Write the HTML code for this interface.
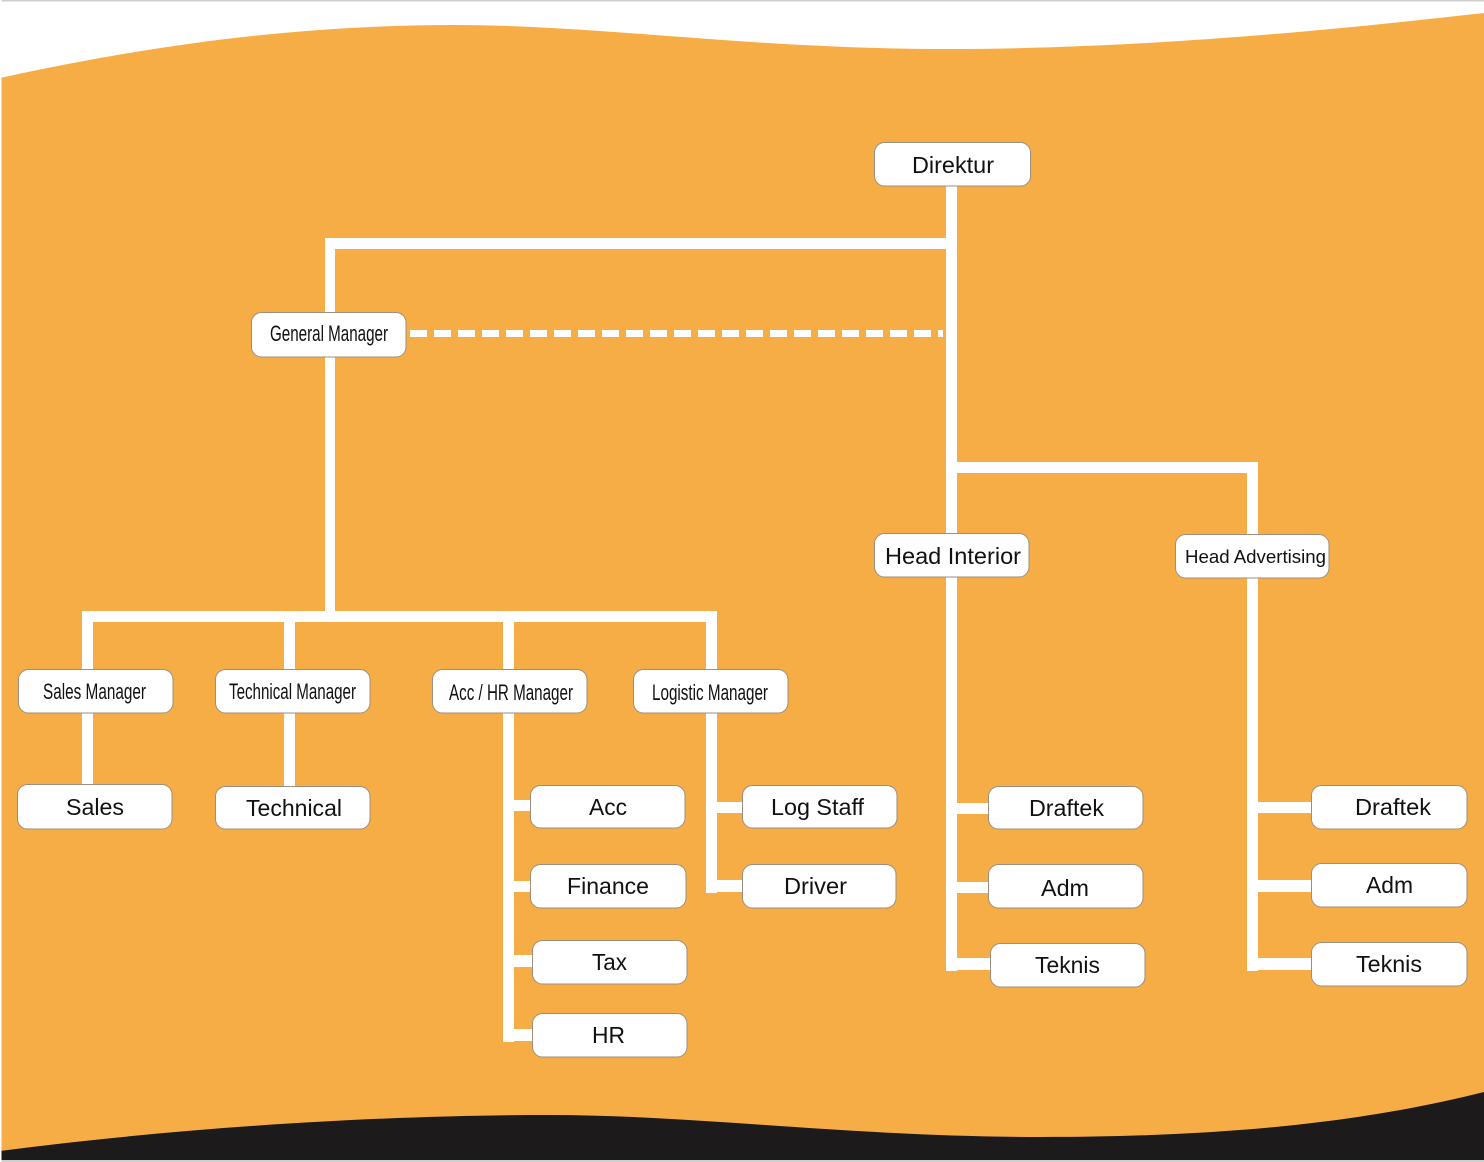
<!DOCTYPE html>
<html>
<head>
<meta charset="utf-8">
<style>
html,body{margin:0;padding:0;background:#fff;}
svg{display:block;}
text{font-family:"Liberation Sans",Arial,sans-serif;fill:#111;}
</style>
</head>
<body>
<svg width="1484" height="1162" viewBox="0 0 1484 1162" xmlns="http://www.w3.org/2000/svg">
  <!-- background -->
  <rect x="0" y="0" width="1484" height="1162" fill="#F6AD45"/>
  <!-- top white wave -->
  <path d="M0,78 C150,45 300,25 454,25 C600,25 750,49 946,49 C1150,49 1350,28 1484,13 L1484,0 L0,0 Z" fill="#ffffff"/>
  <!-- bottom black wave -->
  <path d="M0,1151 C200,1125 400,1115 549,1115 C700,1115 850,1137 1041,1137 C1250,1137 1380,1118 1484,1092 L1484,1162 L0,1162 Z" fill="#1c1a1a"/>
  <rect x="0" y="0" width="1484" height="1.5" fill="#cfcfcf"/>
  <rect x="0" y="1160" width="1484" height="2" fill="#cfcfcf"/>
  <rect x="0" y="0" width="1.5" height="1162" fill="#ffffff"/>

  <!-- connectors -->
  <g fill="#ffffff">
    <!-- Direktur trunk -->
    <rect x="946" y="186" width="11" height="785"/>
    <!-- top horizontal to GM -->
    <rect x="325" y="238" width="632" height="11"/>
    <!-- GM vertical -->
    <rect x="325" y="238" width="10" height="384"/>
    <!-- branch horizontal -->
    <rect x="82" y="611" width="635" height="11"/>
    <!-- manager drops -->
    <rect x="82" y="611" width="11" height="175"/>
    <rect x="284" y="611" width="11" height="177"/>
    <rect x="503" y="611" width="11" height="431"/>
    <rect x="706" y="611" width="11" height="282"/>
    <!-- Acc/HR stubs -->
    <rect x="503" y="800" width="29" height="11"/>
    <rect x="503" y="881" width="29" height="11"/>
    <rect x="503" y="955" width="31" height="12"/>
    <rect x="503" y="1029" width="31" height="12"/>
    <!-- Logistic stubs -->
    <rect x="706" y="802" width="38" height="11"/>
    <rect x="706" y="880" width="38" height="12"/>
    <!-- right branch -->
    <rect x="946" y="462" width="312" height="11"/>
    <rect x="1247" y="462" width="11" height="509"/>
    <!-- interior stubs -->
    <rect x="946" y="803" width="44" height="11"/>
    <rect x="946" y="882" width="44" height="11"/>
    <rect x="946" y="958" width="46" height="12"/>
    <!-- advertising stubs -->
    <rect x="1247" y="802" width="66" height="11"/>
    <rect x="1247" y="880" width="66" height="12"/>
    <rect x="1247" y="958" width="66" height="12"/>
  </g>
  <!-- dashed GM - Direktur -->
  <line x1="410" y1="333.5" x2="943" y2="333.5" stroke="#ffffff" stroke-width="7" stroke-dasharray="17,7"/>

  <!-- boxes -->
  <g fill="#ffffff" stroke="#9c8f80" stroke-width="1">
    <rect x="874.5" y="142.5" width="156" height="43.5" rx="10"/>
    <rect x="251.5" y="312.5" width="154.5" height="44.5" rx="10"/>
    <rect x="874.5" y="533.5" width="154.5" height="43.5" rx="10"/>
    <rect x="1175.5" y="534.5" width="153.5" height="43.5" rx="10"/>
    <rect x="18.5" y="669.5" width="154.5" height="43.5" rx="10"/>
    <rect x="215.5" y="669.5" width="154.5" height="43.5" rx="10"/>
    <rect x="432.5" y="669.5" width="154.5" height="43.5" rx="10"/>
    <rect x="633.5" y="669.5" width="154.5" height="43.5" rx="10"/>
    <rect x="17.5" y="784.5" width="154.5" height="44.5" rx="10"/>
    <rect x="215.5" y="786.5" width="154.5" height="42.5" rx="10"/>
    <rect x="530.5" y="785.5" width="154.5" height="42.5" rx="10"/>
    <rect x="530.5" y="864.5" width="155.5" height="43.5" rx="10"/>
    <rect x="532.5" y="940.5" width="154.5" height="43.5" rx="10"/>
    <rect x="532.5" y="1013.5" width="154.5" height="43.5" rx="10"/>
    <rect x="742.5" y="785.5" width="154.5" height="42.5" rx="10"/>
    <rect x="742.5" y="864.5" width="153.5" height="43.5" rx="10"/>
    <rect x="988.5" y="786.5" width="154.5" height="42.5" rx="10"/>
    <rect x="988.5" y="864.5" width="154.5" height="43.5" rx="10"/>
    <rect x="990.5" y="943.5" width="154.5" height="43.5" rx="10"/>
    <rect x="1311.5" y="785.5" width="155.5" height="43.5" rx="10"/>
    <rect x="1311.5" y="863.5" width="155.5" height="43.5" rx="10"/>
    <rect x="1311.5" y="942.5" width="155.5" height="43.5" rx="10"/>
  </g>

  <!-- labels -->
  <g font-size="23">
    <text x="912" y="173" textLength="82" lengthAdjust="spacingAndGlyphs">Direktur</text>
    <text x="885" y="564" textLength="136" lengthAdjust="spacingAndGlyphs">Head Interior</text>
    <text x="66" y="815" textLength="58" lengthAdjust="spacingAndGlyphs">Sales</text>
    <text x="246" y="816" textLength="96" lengthAdjust="spacingAndGlyphs">Technical</text>
    <text x="589" y="815" textLength="38" lengthAdjust="spacingAndGlyphs">Acc</text>
    <text x="567" y="894" textLength="82" lengthAdjust="spacingAndGlyphs">Finance</text>
    <text x="592" y="970" textLength="35" lengthAdjust="spacingAndGlyphs">Tax</text>
    <text x="592" y="1043" textLength="33" lengthAdjust="spacingAndGlyphs">HR</text>
    <text x="771" y="815" textLength="93" lengthAdjust="spacingAndGlyphs">Log Staff</text>
    <text x="784" y="894" textLength="63" lengthAdjust="spacingAndGlyphs">Driver</text>
    <text x="1029" y="816" textLength="75" lengthAdjust="spacingAndGlyphs">Draftek</text>
    <text x="1041" y="896" textLength="48" lengthAdjust="spacingAndGlyphs">Adm</text>
    <text x="1035" y="973" textLength="65" lengthAdjust="spacingAndGlyphs">Teknis</text>
    <text x="1355" y="815" textLength="76" lengthAdjust="spacingAndGlyphs">Draftek</text>
    <text x="1366" y="893" textLength="47" lengthAdjust="spacingAndGlyphs">Adm</text>
    <text x="1356" y="972" textLength="66" lengthAdjust="spacingAndGlyphs">Teknis</text>
  </g>
  <g font-size="22">
    <text x="270" y="341" textLength="118" lengthAdjust="spacingAndGlyphs">General Manager</text>
    <text x="43" y="699" textLength="103" lengthAdjust="spacingAndGlyphs">Sales Manager</text>
    <text x="229" y="699" textLength="127" lengthAdjust="spacingAndGlyphs">Technical Manager</text>
    <text x="449" y="700" textLength="124" lengthAdjust="spacingAndGlyphs">Acc / HR Manager</text>
    <text x="652" y="700" textLength="116" lengthAdjust="spacingAndGlyphs">Logistic Manager</text>
  </g>
  <text x="1185" y="563" font-size="18" textLength="141" lengthAdjust="spacingAndGlyphs" font-family="'DejaVu Sans','Liberation Sans',sans-serif">Head Advertising</text>
</svg>
</body>
</html>
